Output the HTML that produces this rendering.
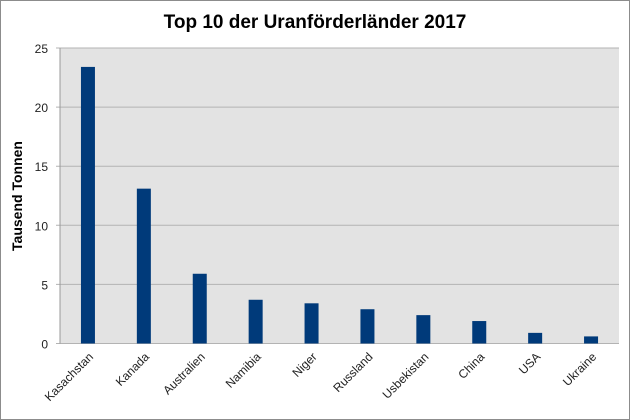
<!DOCTYPE html>
<html><head><meta charset="utf-8"><style>body{margin:0;background:#fff}svg{display:block;font-family:"Liberation Sans",sans-serif}</style></head>
<body>
<svg width="630" height="420">
<rect x="0.5" y="0.5" width="629" height="419" fill="#fff" stroke="#8c8c8c"/>
<text x="315" y="28" text-anchor="middle" font-size="19" font-weight="bold">Top 10 der Uranförderländer 2017</text>
<text transform="translate(22,196) rotate(-90)" text-anchor="middle" font-size="14" font-weight="bold">Tausend Tonnen</text>
<g id="plot"></g>
</svg>
<script>
const categories=["Kasachstan","Kanada","Australien","Namibia","Niger","Russland","Usbekistan","China","USA","Ukraine"];
const values=[23.4,13.1,5.9,3.7,3.4,2.9,2.4,1.9,0.9,0.6];
const yTicks=[0,5,10,15,20,25];
const L=60,R=619,T=48,B=343.5,yMax=25;
const ns="http://www.w3.org/2000/svg";
const g=document.getElementById("plot");
const y=v=>B-(v/yMax)*(B-T);
const step=(R-L)/categories.length;
const x=i=>L+step*(i+0.5);
function mk(t,a){const e=document.createElementNS(ns,t);for(const k in a)e.setAttribute(k,a[k]);g.appendChild(e);return e;}
const bg=mk("rect",{x:L,y:T,width:R-L,height:B-T,fill:"#e3e3e3"});


yTicks.forEach(t=>{
 const ln=mk("line",{x1:L-4,x2:R,y1:y(t),y2:y(t),stroke:"#b3b3b3","stroke-width":1});
 
 
 const tx=mk("text",{x:L-12,y:y(t)+5,"text-anchor":"end","font-size":12,fill:"#222"});
 tx.textContent=t;
 
 
});
const ax=mk("line",{x1:L,x2:L,y1:T,y2:B,stroke:"#999"});


categories.forEach((c,i)=>{
 const b=mk("rect",{x:x(i)-7,y:y(values[i]),width:14,height:B-y(values[i]),fill:"#003a7a"});
 
 
 const tx=mk("text",{transform:`translate(${x(i)+6},${B+14}) rotate(-45)`,"text-anchor":"end","font-size":12,fill:"#222"});
 tx.textContent=c;
 
 
});
</script>
</body></html>
